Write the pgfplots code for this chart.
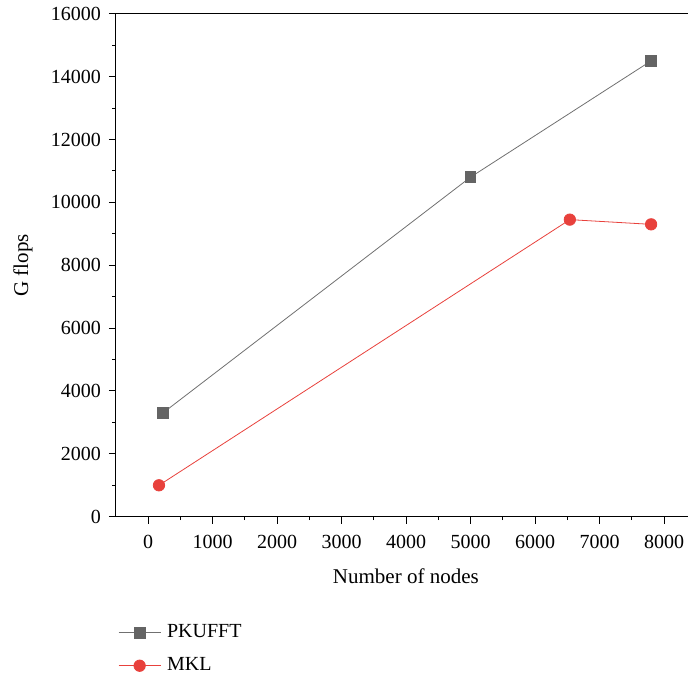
\documentclass[border=0pt]{standalone}
\usepackage{fontspec}
\setmainfont{Liberation Serif}
\usepackage{pgfplots}
\pgfplotsset{compat=1.18}
\definecolor{pkgray}{RGB}{100,100,100}
\definecolor{pkline}{RGB}{112,112,112}
\definecolor{mklred}{RGB}{232,65,60}
\begin{document}
\fontsize{20}{24}\selectfont
\begin{tikzpicture}
\begin{axis}[
  scale only axis, width=572.2pt, height=503pt,
  xmin=-500, xmax=8372, ymin=0, ymax=16000,
  axis x line*=box, axis y line*=left,
  xtick={0,1000,...,8000}, ytick={0,2000,...,16000},
  scaled y ticks=false, scaled x ticks=false,
  minor x tick num=1, minor y tick num=1,
  tick align=outside, xtick pos=left, ytick pos=left,
  major tick length=7pt, minor tick length=3.5pt,
  axis line style={line width=1.3pt, black},
  every tick/.style={black, line width=1pt},
  /pgf/number format/1000 sep={}, /pgf/number format/assume math mode=true,
  tick label style={font=\fontsize{20}{24}\selectfont},
  xticklabel style={yshift=-5pt},
  yticklabel style={xshift=-1pt},
  label style={font=\fontsize{21}{25}\selectfont},
  xlabel={Number of nodes}, ylabel={G flops},
  xlabel style={at={(axis description cs:0.507,-0.118)}, anchor=center},
  ylabel style={at={(axis description cs:-0.162,0.5)}, anchor=center},
  legend style={at={(axis description cs:0.004,-0.21)}, anchor=north west, draw=none, fill=none,
    font=\fontsize{20}{24}\selectfont, row sep=13pt, inner sep=0pt},
  legend cell align=left,
  legend image code/.code={\draw[mark repeat=2,mark phase=2,#1] plot coordinates {(0pt,0pt) (21pt,0pt) (42pt,0pt)}; \path (46pt,0pt);},
]
\addplot[color=pkline, line width=0.8pt, mark=square*, mark size=5.3pt, mark options={solid, fill=pkgray, draw=pkgray}]
  coordinates {(230,3300) (5000,10800) (7800,14500)};
\addlegendentry{PKUFFT}
\addplot[color=mklred, line width=0.8pt, mark=*, mark size=5.7pt, mark options={solid, fill=mklred, draw=mklred}]
  coordinates {(170,1000) (6540,9450) (7800,9300)};
\addlegendentry{MKL}
\coordinate (bl) at (rel axis cs:0,0);
\coordinate (tr) at (rel axis cs:1,1);
\end{axis}
\pgfresetboundingbox
\path[use as bounding box] ([shift={(-115.75pt,-161.3pt)}]bl) rectangle ([shift={(0pt,13.7pt)}]tr);
\end{tikzpicture}
\end{document}
